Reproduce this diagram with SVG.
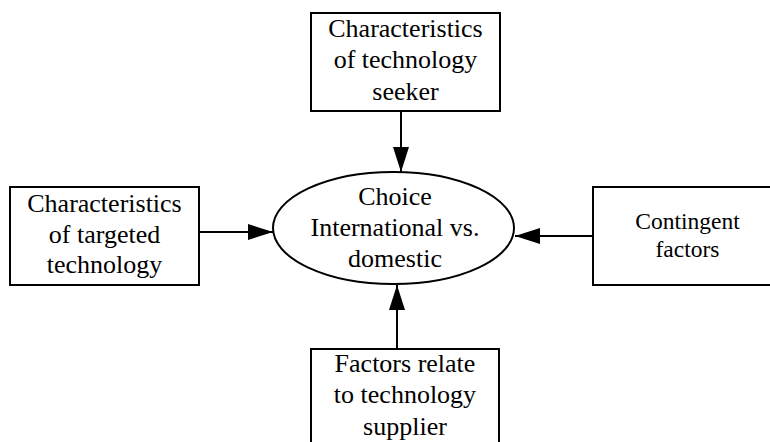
<svg xmlns="http://www.w3.org/2000/svg" width="770" height="442" viewBox="0 0 770 442">
<style>
.box{fill:#fff;stroke:#000;stroke-width:2}
.ell{fill:#fff;stroke:#000;stroke-width:2}
text{font-family:'Liberation Serif','DejaVu Serif',serif;fill:#000;text-anchor:middle}
.t{font-size:26px}
.ts{font-size:23.5px}
.c{stroke:#000;stroke-width:2;fill:none;marker-end:url(#ah)}
</style>
<defs>
<marker id="ah" markerWidth="25" markerHeight="16" refX="25" refY="8" orient="auto" markerUnits="userSpaceOnUse">
<path d="M0,0 L25,8 L0,16 Z" fill="#000"/>
</marker>
</defs>
<rect width="770" height="442" fill="#fff"/>
<g id="connectors">
<line class="c" x1="401" y1="111" x2="401" y2="172"/>
<line class="c" x1="199" y1="232" x2="273" y2="232"/>
<line class="c" x1="593" y1="236" x2="515" y2="236"/>
<line class="c" x1="397" y1="349" x2="397" y2="285"/>
</g>
<g id="node-seeker" font-family="Liberation Serif, serif">
<rect class="box" x="311" y="13" width="189" height="98"/>
<text class="t" x="405.5" y="37">Characteristics</text>
<text class="t" x="405.5" y="68">of technology</text>
<text class="t" x="405.5" y="100">seeker</text>
</g>
<g id="node-targeted">
<rect class="box" x="10" y="187" width="189" height="98"/>
<text class="t" x="104.5" y="212">Characteristics</text>
<text class="t" x="104.5" y="243">of targeted</text>
<text class="t" x="104.5" y="273">technology</text>
</g>
<g id="node-choice">
<ellipse class="ell" cx="393.5" cy="228" rx="120.5" ry="56"/>
<text class="t" x="395" y="205">Choice</text>
<text class="t" x="395" y="236">International vs.</text>
<text class="t" x="395" y="267">domestic</text>
</g>
<g id="node-contingent">
<rect class="box" x="593" y="187" width="189" height="98"/>
<text class="ts" x="687.5" y="229">Contingent</text>
<text class="ts" x="687.5" y="257">factors</text>
</g>
<g id="node-supplier">
<rect class="box" x="311" y="349" width="188" height="110"/>
<text class="t" x="405" y="372">Factors relate</text>
<text class="t" x="405" y="403">to technology</text>
<text class="t" x="405" y="435">supplier</text>
</g>
</svg>
